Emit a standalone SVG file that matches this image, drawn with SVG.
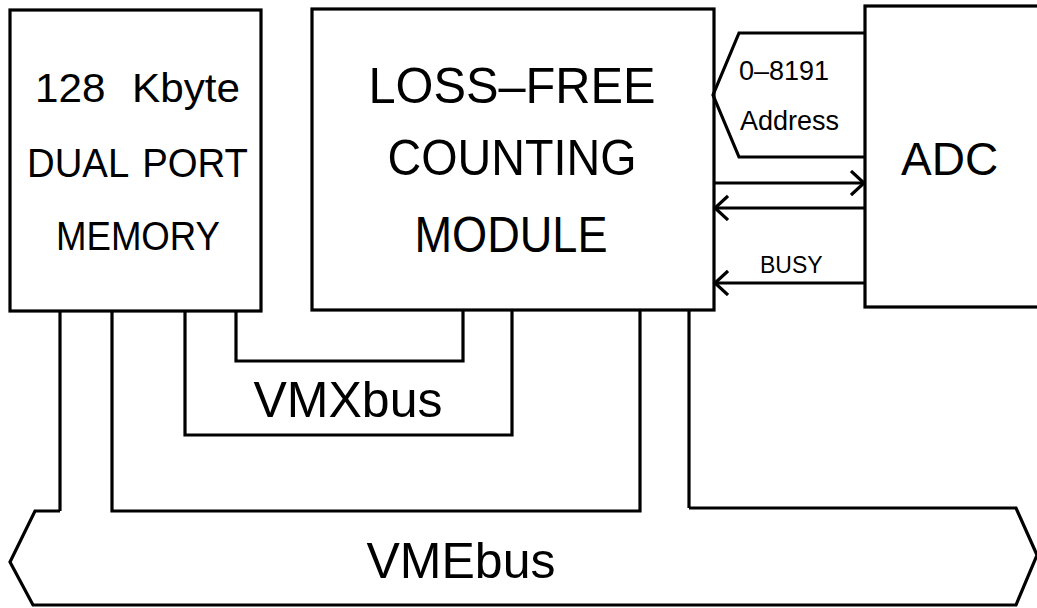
<svg xmlns="http://www.w3.org/2000/svg" width="1037" height="608" viewBox="0 0 1037 608">
<defs>
<style>
.box{fill:#fff;stroke:#000;stroke-width:3.2}
.ln{fill:none;stroke:#000;stroke-width:3.2;stroke-linejoin:miter}
.t{font-family:"Liberation Sans",Arial,sans-serif;fill:#000}
.big{font-size:50px;text-anchor:middle}
.mem{font-size:40px;text-anchor:middle}
.sm{font-size:27px}
</style>
<marker id="chev" markerUnits="userSpaceOnUse" markerWidth="20" markerHeight="30" refX="14" refY="13" orient="auto" viewBox="0 0 20 30">
<path d="M1,1 L14,13 L1,25" fill="none" stroke="#000" stroke-width="3.2"/>
</marker>
</defs>
<rect width="1037" height="608" fill="#fff"/>
<g id="memory">
<rect class="box" x="10" y="10" width="251" height="301"/>
<text class="t" x="35" y="102" font-size="40" word-spacing="14" textLength="205" lengthAdjust="spacingAndGlyphs">128 Kbyte</text>
<text class="t" x="27" y="177" font-size="40" word-spacing="4" textLength="221" lengthAdjust="spacingAndGlyphs">DUAL PORT</text>
<text class="t mem" x="138" y="250" textLength="164" lengthAdjust="spacingAndGlyphs">MEMORY</text>
</g>
<g id="counting-module">
<rect class="box" x="312" y="9" width="402" height="301"/>
<text class="t big" x="512" y="103" textLength="287" lengthAdjust="spacingAndGlyphs">LOSS–FREE</text>
<text class="t big" x="512" y="175" textLength="249" lengthAdjust="spacingAndGlyphs">COUNTING</text>
<text class="t big" x="511" y="252" textLength="193" lengthAdjust="spacingAndGlyphs">MODULE</text>
</g>
<g id="adc">
<rect class="box" x="865" y="6" width="180" height="301"/>
<text class="t" x="901" y="175" font-size="46">ADC</text>
</g>
<g id="address-bus">
<path class="ln" d="M865,33 H739 L713,95 L739,157 H865"/>
<text class="t sm" x="739" y="80">0–8191</text>
<text class="t sm" x="740" y="130">Address</text>
</g>
<g id="vmebus">
<path class="ln" d="M60,511 H35 L10,562 L33,605 H1016 L1037,555 L1016,508 H689"/>
<text class="t big" x="461" y="578">VMEbus</text>
</g>
<g id="vmxbus">
<text class="t big" x="348" y="417">VMXbus</text>
</g>
<g id="connectors">
<path class="ln" d="M60,311 V511"/>
<path class="ln" d="M689,310 V508"/>
<path class="ln" d="M112,311 V511 H640 V310"/>
<path class="ln" d="M185,311 V435 H512 V310"/>
<path class="ln" d="M236,311 V361 H463 V310"/>
<path class="ln" d="M714,183 H864" marker-end="url(#chev)"/>
<path class="ln" d="M865,208 H715" marker-end="url(#chev)"/>
<path class="ln" d="M865,283 H715" marker-end="url(#chev)"/>
<text class="t" x="760" y="273" font-size="23">BUSY</text>
</g>
</svg>
